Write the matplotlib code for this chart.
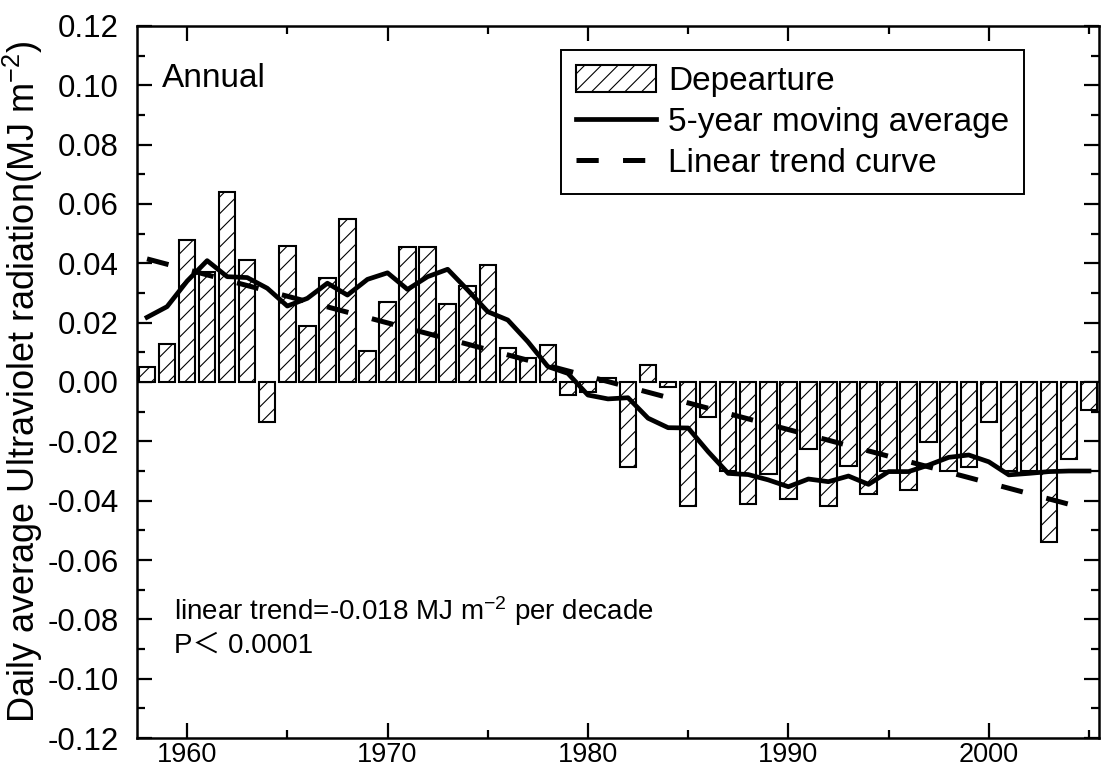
import numpy as np
import matplotlib
matplotlib.use("Agg")
import matplotlib.pyplot as plt
from matplotlib.ticker import MultipleLocator, FormatStrFormatter

# -----------------------------------------------------
# Data
# -----------------------------------------------------

years = list(range(1958, 2006))

departure = [
    0.0050, 0.0127, 0.0480, 0.0370, 0.0640, 0.0410, -0.0134, 0.0460,
    0.0190, 0.0350, 0.0550, 0.0104, 0.0270, 0.0455, 0.0455, 0.0263,
    0.0325, 0.0395, 0.0113, 0.0080, 0.0125, -0.0044, -0.0035, 0.0015,
    -0.0285, 0.0057, -0.0016, -0.0417, -0.0119, -0.0300, -0.0412, -0.0310,
    -0.0394, -0.0226, -0.0417, -0.0282, -0.0377, -0.0299, -0.0364, -0.0203,
    -0.0300, -0.0288, -0.0136, -0.0300, -0.0300, -0.0540, -0.0260, -0.0094,
]

moving_avg = [
    0.0218, 0.0254, 0.0340, 0.0409, 0.0355, 0.0352, 0.0316, 0.0256,
    0.0282, 0.0333, 0.0293, 0.0346, 0.0368, 0.0312, 0.0355, 0.0380,
    0.0310, 0.0237, 0.0209, 0.0136, 0.0052, 0.0029, -0.0044, -0.0057,
    -0.0053, -0.0122, -0.0154, -0.0155, -0.0235, -0.0308, -0.0312, -0.0330,
    -0.0353, -0.0327, -0.0336, -0.0317, -0.0345, -0.0302, -0.0302, -0.0280,
    -0.0254, -0.0246, -0.0269, -0.0313, -0.0308, -0.0302, -0.0300, -0.0300,
]

# end points of the fitted linear trend
trend_years = [1958, 2005]
trend_values = [0.0415, -0.0430]

# -----------------------------------------------------
# Style
# -----------------------------------------------------

plt.rcParams["font.family"] = ["Liberation Sans", "Noto Sans CJK SC", "DejaVu Sans"]
plt.rcParams["mathtext.fontset"] = "custom"
plt.rcParams["mathtext.rm"] = "Liberation Sans"
plt.rcParams["mathtext.it"] = "Liberation Sans:italic"
plt.rcParams["mathtext.bf"] = "Liberation Sans:bold"
plt.rcParams["hatch.linewidth"] = 0.8
plt.rcParams["lines.scale_dashes"] = False

# =====================================================
# Figure
# =====================================================

fig = plt.figure(figsize=(11.01, 7.74), dpi=100)
ax = fig.add_axes([137 / 1101, 1 - 738 / 774, (1099 - 137) / 1101, (738 - 26) / 774])

bars = ax.bar(years, departure, width=0.82, color="white", edgecolor="black",
              linewidth=1.5, hatch="//", zorder=2)

ma_line, = ax.plot(years, moving_avg, color="black", linewidth=3.4, zorder=4)

trend_line, = ax.plot(trend_years, trend_values, color="black", linewidth=3.6,
                      linestyle=(0, (16, 17.5)), zorder=3)

ax.set_xlim(1957.5, 2005.5)
ax.set_ylim(-0.12, 0.12)

ax.xaxis.set_major_locator(MultipleLocator(10))
ax.xaxis.set_minor_locator(MultipleLocator(5))
ax.yaxis.set_major_locator(MultipleLocator(0.02))
ax.yaxis.set_minor_locator(MultipleLocator(0.01))
ax.yaxis.set_major_formatter(FormatStrFormatter("%.2f"))

ax.tick_params(which="both", direction="in", top=True, right=True, width=1.6)
ax.tick_params(which="major", length=11)
ax.tick_params(which="minor", length=6)
ax.tick_params(axis="y", labelsize=22.5, pad=13)
ax.tick_params(axis="x", labelsize=19.5, pad=3)

for side in ["left", "right", "top", "bottom"]:
    ax.spines[side].set_linewidth(1.8)

ax.set_ylabel(r"Daily average Ultraviolet radiation(MJ m$^{\mathregular{-2}}$)",
              fontsize=26, labelpad=2)

# -----------------------------------------------------
# Texts
# -----------------------------------------------------

ax.text(1958.75, 0.0995, "Annual", fontsize=24, va="baseline", ha="left")
ax.text(1959.35, -0.0802,
        r"linear trend=-0.018 MJ m$^{\mathregular{-2}}$ per decade",
        fontsize=20, va="baseline", ha="left")
ax.text(1959.35, -0.0913, "P＜ 0.0001", fontsize=20, va="baseline", ha="left")

# -----------------------------------------------------
# Legend
# -----------------------------------------------------

leg = ax.legend([bars, ma_line, trend_line],
                ["Depearture", "5-year moving average", "Linear trend curve"],
                loc="upper left", bbox_to_anchor=(0.441, 0.966),
                fontsize=24, frameon=True, fancybox=False, borderpad=0.45,
                handlelength=2.4, handleheight=0.85, handletextpad=0.35,
                labelspacing=0.28, borderaxespad=0)
leg.get_frame().set_edgecolor("black")
leg.get_frame().set_linewidth(1.4)
leg.get_frame().set_alpha(1)

fig.savefig("out.png", dpi=100)
plt.close()
